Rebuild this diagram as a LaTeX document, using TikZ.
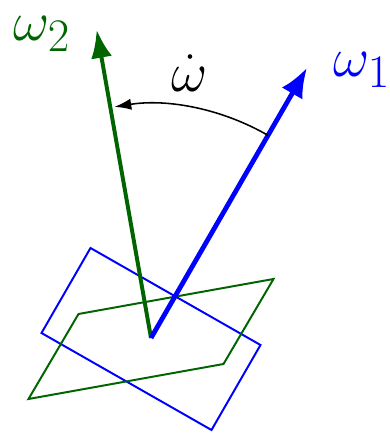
\documentclass[tikz,border=0pt]{standalone}
\usetikzlibrary{arrows.meta}
\definecolor{dkgreen}{RGB}{0,100,0}
\begin{document}
\begin{tikzpicture}[x=0.025cm,y=0.025cm, label/.style={font=\Huge, scale=1.6, inner sep=0pt}]
\useasboundingbox (-151,-95) rectangle (238,338);
\coordinate (O) at (0,0);
\coordinate (w1) at (60:312);
\coordinate (w2) at (100:313);
\coordinate (a1) at (60:234);

% the two planes
\draw[blue, line width=1.4pt] (109.5,-7) -- (60.5,-92) -- (-109.5,5) -- (-60.5,90) -- cycle;
\draw[dkgreen, line width=1.4pt] (122.5,59) -- (72.5,-26) -- (-122.5,-61) -- (-72.5,24) -- cycle;

\draw[dkgreen, line width=2.8pt, -{Latex[length=20pt,width=15pt]}] (O) -- (w2);
\draw[blue, line width=3.4pt, -{Latex[length=21pt,width=17pt]}] (O) -- (w1);
\draw[line width=1.1pt, -{Latex[length=12pt,width=8pt]}] (a1) arc[start angle=60, end angle=99, radius=234];

\node[label, dkgreen] (l2) at (-109,304) {$\omega_2$};
\node[label, blue] (l1) at (211,268) {$\omega_1$};
\node[label] (ld) at (39,265) {$\dot\omega$};
\end{tikzpicture}
\end{document}
